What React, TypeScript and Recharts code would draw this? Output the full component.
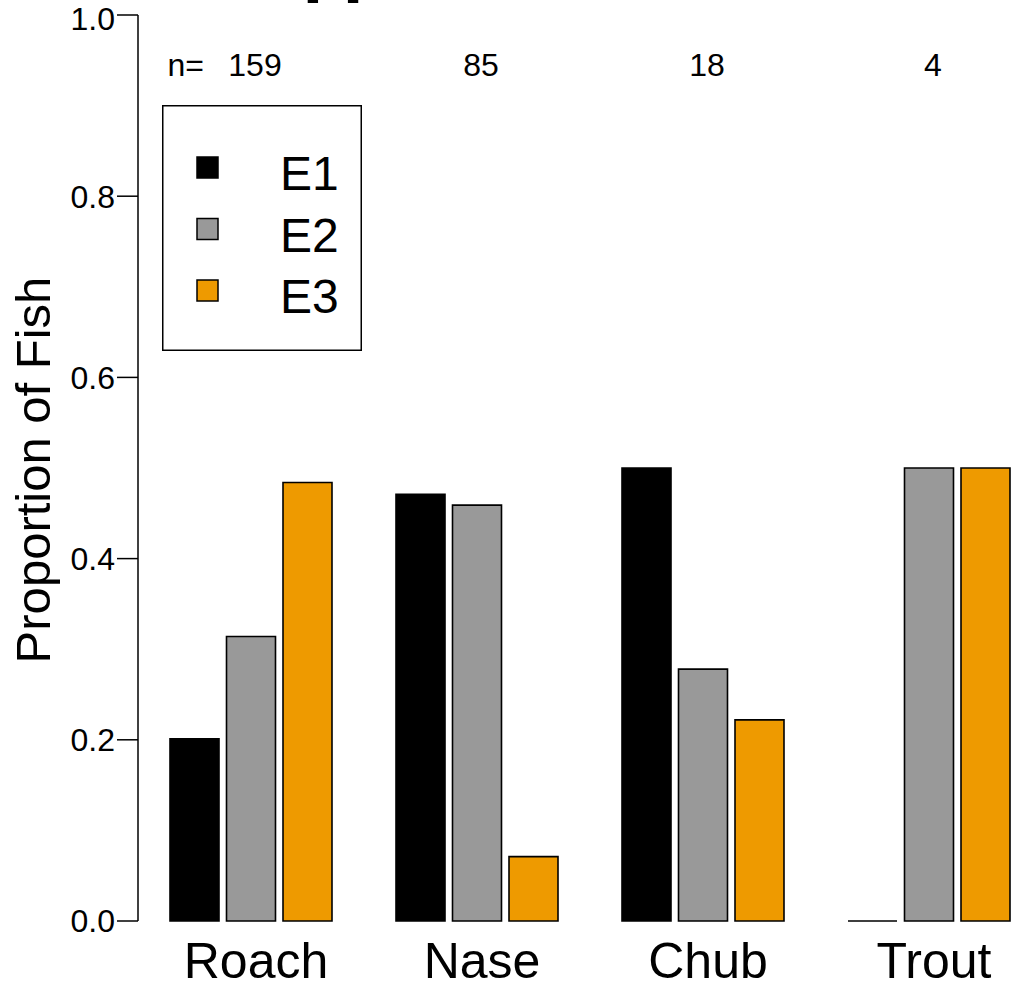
import { BarChart, Bar, XAxis, YAxis, Legend, LabelList } from "recharts";

const CATEGORIES = ["Roach", "Nase", "Chub", "Trout"];
const E1 = [0.201, 0.471, 0.5, 0];
const E2 = [0.314, 0.459, 0.278, 0.5];
const E3 = [0.484, 0.071, 0.222, 0.5];
const N_FISH = [159, 85, 18, 4];
const Y_TICKS = [0, 0.2, 0.4, 0.6, 0.8, 1.0];

const FONT = "'Liberation Sans', Arial, Helvetica, sans-serif";

const data = CATEGORIES.map((name, i) => ({
  name,
  E1: E1[i],
  E2: E2[i],
  E3: E3[i],
  n: N_FISH[i],
}));

// outline drawn as a path so a zero-height bar still shows as a line
const BarShape = (props: any) => {
  const { x, y, width, height, fill } = props;
  if (x == null || width == null) return null;
  const h = height || 0;
  return (
    <path
      d={`M${x},${y} h${width} v${h} h${-width} Z`}
      fill={fill}
      stroke="#000"
      strokeWidth={1.6}
    />
  );
};

const NLabel = (props: any) => {
  const { x, width, value, index } = props;
  const cx = x + width / 2 + 4;
  return (
    <g>
      {index === 0 && (
        <text x={204} y={76} textAnchor="end" fontSize={32} fontFamily={FONT} fill="#000">
          n=
        </text>
      )}
      <text x={cx} y={76} textAnchor="middle" fontSize={32} fontFamily={FONT} fill="#000">
        {value}
      </text>
    </g>
  );
};

const LegendBox = (props: any) => {
  const items = props.payload || [];
  return (
    <svg width={200} height={246} style={{ display: "block" }}>
      <rect x={0.75} y={0.75} width={198.5} height={244.5} fill="#fff" stroke="#000" strokeWidth={1.5} />
      {items.map((it: any, i: number) => (
        <g key={it.value}>
          <rect x={35} y={52 + 61.5 * i} width={21} height={21} fill={it.color} stroke="#000" strokeWidth={1.5} />
          <text x={118} y={85 + 61.5 * i} fontSize={48} fontFamily={FONT} fill="#000">
            {it.value}
          </text>
        </g>
      ))}
    </svg>
  );
};

export default function App() {
  return (
    <div
      style={{
        position: "absolute",
        left: 0,
        top: 0,
        width: 1011,
        height: 986,
        overflow: "hidden",
        background: "#fff",
      }}
    >
      <BarChart
        width={1042}
        height={986}
        data={data}
        margin={{ top: 15, right: 0, bottom: 0, left: 0 }}
        barSize={49}
        barGap={7.5}
      >
        <XAxis
          dataKey="name"
          height={65}
          axisLine={false}
          tickLine={false}
          tickSize={6}
          tickMargin={15}
          interval={0}
          tick={{ fontSize: 50, fill: "#000", fontFamily: FONT, dx: 5 }}
        />
        <YAxis
          width={138}
          domain={[0, 1]}
          ticks={Y_TICKS}
          tickFormatter={(v: number) => v.toFixed(1)}
          tickSize={21}
          tickMargin={2}
          axisLine={{ stroke: "#000", strokeWidth: 1.5 }}
          tickLine={{ stroke: "#000", strokeWidth: 1.5 }}
          tick={{ fontSize: 32, fill: "#000", fontFamily: FONT }}
        />
        <Legend
          layout="vertical"
          align="center"
          verticalAlign="middle"
          wrapperStyle={{ left: 162, top: 105, width: 200, height: 246 }}
          content={<LegendBox />}
        />
        <Bar dataKey="E1" fill="#000000" shape={<BarShape />} isAnimationActive={false} />
        <Bar dataKey="E2" fill="#999999" shape={<BarShape />} isAnimationActive={false}>
          <LabelList dataKey="n" content={<NLabel />} />
        </Bar>
        <Bar dataKey="E3" fill="#EE9A00" shape={<BarShape />} isAnimationActive={false} />
      </BarChart>
      <svg
        width={1011}
        height={986}
        style={{ position: "absolute", left: 0, top: 0, pointerEvents: "none" }}
      >
        <text x={333} y={-8} textAnchor="middle" fontSize={52} fontFamily={FONT} fill="#000">
          [a]
        </text>
        <text
          x={50}
          y={470}
          textAnchor="middle"
          fontSize={49}
          fontFamily={FONT}
          fill="#000"
          transform="rotate(-90, 50, 470)"
        >
          Proportion of Fish
        </text>
      </svg>
    </div>
  );
}
